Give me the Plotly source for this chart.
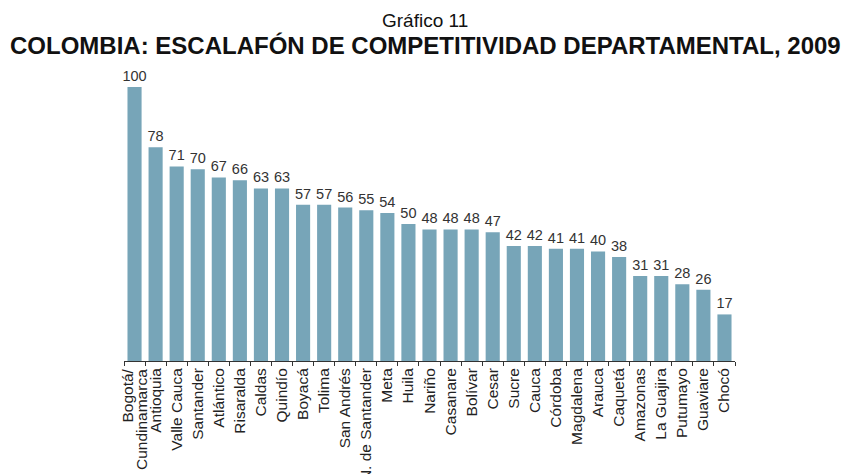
import plotly.graph_objects as go

departamentos = [
    "Bogotá/ Cundinamarca", "Antioquia", "Valle Cauca", "Santander", "Atlántico",
    "Risaralda", "Caldas", "Quindío", "Boyacá", "Tolima", "San Andrés",
    "N. de Santander", "Meta", "Huila", "Nariño", "Casanare", "Bolívar", "Cesar",
    "Sucre", "Cauca", "Córdoba", "Magdalena", "Arauca", "Caquetá", "Amazonas",
    "La Guajira", "Putumayo", "Guaviare", "Chocó",
]
puntaje = [100, 78, 71, 70, 67, 66, 63, 63, 57, 57, 56, 55, 54, 50, 48, 48, 48, 47,
           42, 42, 41, 41, 40, 38, 31, 31, 28, 26, 17]

FONT = "Liberation Sans, Arial"
LABEL_SIZE = 15.5

fig = go.Figure(go.Bar(
    x=departamentos,
    y=puntaje,
    marker=dict(color="#77A5B8", line=dict(width=0)),
    text=[str(v) for v in puntaje],
    textposition="outside",
    constraintext="none",
    textfont=dict(family=FONT, size=14.5, color="#333333"),
    cliponaxis=False,
))

fig.update_layout(
    width=847, height=474,
    margin=dict(l=124, r=112, t=87, b=113),
    paper_bgcolor="white", plot_bgcolor="white",
    bargap=0.33,
    showlegend=False,
    font=dict(family=FONT, color="#222222"),
)

# two-line heading above the plot
cx = (425 - 124) / 611
fig.add_annotation(text="Gráfico 11", xref="paper", yref="paper",
                   x=cx, y=1 + (87 - 20) / 274,
                   xanchor="center", yanchor="middle", showarrow=False,
                   font=dict(family=FONT, size=19, color="#111111"))
fig.add_annotation(text="<b>COLOMBIA: ESCALAFÓN DE COMPETITIVIDAD DEPARTAMENTAL, 2009</b>",
                   xref="paper", yref="paper",
                   x=cx, y=1 + (87 - 45) / 274,
                   xanchor="center", yanchor="middle", showarrow=False,
                   font=dict(family=FONT, size=24, color="#111111"))

# names split at "/" are drawn as two tightly spaced rotated lines
ticktext = []
for name in departamentos:
    if "/" in name:
        ticktext.append("")
        head, tail = name.split("/", 1)
        for part, shift in ((head + "/", -8), (tail.strip(), 7)):
            fig.add_annotation(text=part, x=name, y=0, xref="x", yref="y",
                               xanchor="center", yanchor="top", textangle=-90,
                               xshift=shift, yshift=-6, showarrow=False,
                               font=dict(family=FONT, size=LABEL_SIZE, color="#222222"))
    else:
        ticktext.append(name)

fig.update_xaxes(
    range=[-0.5, len(departamentos) - 0.5],
    tickmode="array", tickvals=departamentos, ticktext=ticktext,
    showline=True, linecolor="#333333", linewidth=1,
    ticks="outside", tickson="boundaries", ticklen=4, tickcolor="#333333",
    tickangle=-90, tickfont=dict(family=FONT, size=LABEL_SIZE, color="#222222"),
    showgrid=False, automargin=False,
)
fig.update_yaxes(range=[0, 100], visible=False, showgrid=False, automargin=False)

fig.write_html("out.html")
